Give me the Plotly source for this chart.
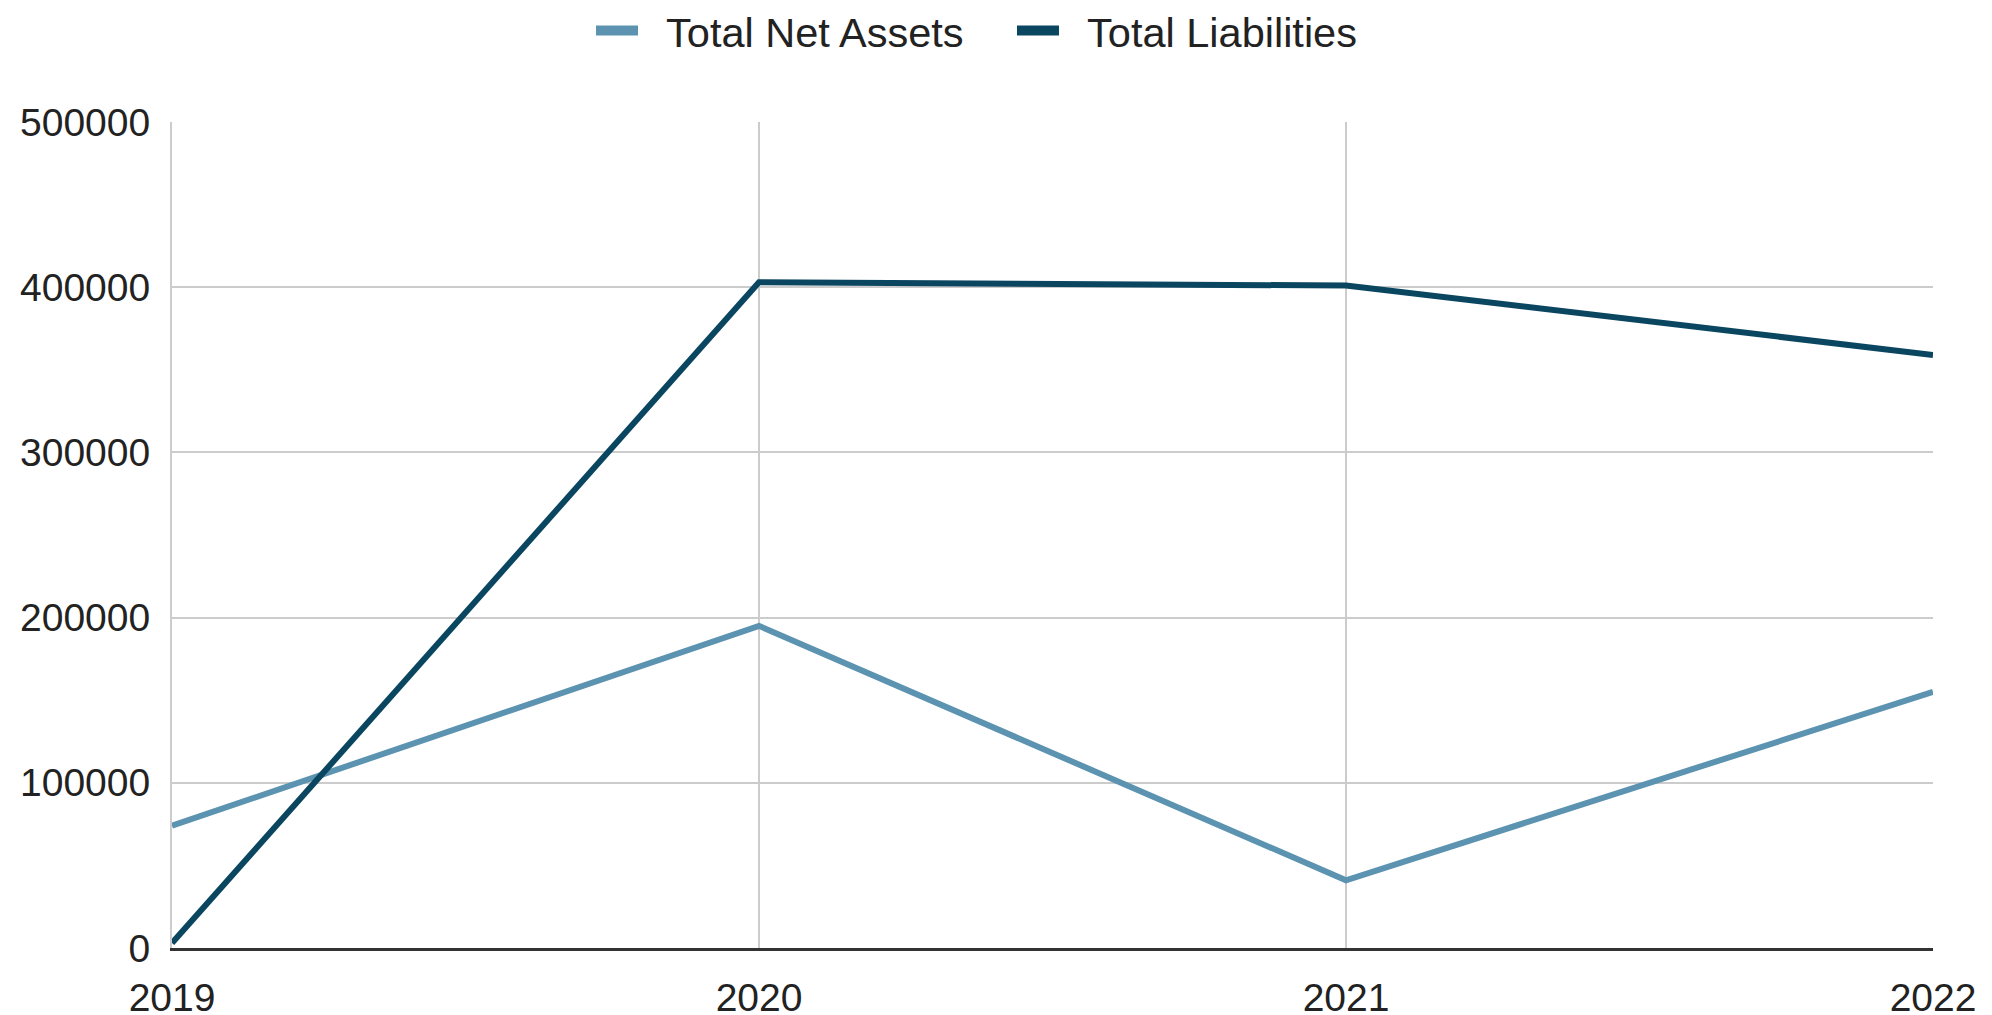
import plotly.graph_objects as go

years = [2019, 2020, 2021, 2022]
net_assets = [74000, 195000, 41000, 155000]
liabilities = [3000, 403000, 401000, 359000]
series_names = ["Total Net Assets", "Total Liabilities"]

c_net = "#5b93b1"
c_liab = "#0b4660"

W, H = 1976, 1015  # page body adds an 8px offset

fig = go.Figure()
fig.add_trace(go.Scatter(x=years, y=net_assets, mode="lines", name=series_names[0],
                         line=dict(color=c_net, width=6), showlegend=False))
fig.add_trace(go.Scatter(x=years, y=liabilities, mode="lines", name=series_names[1],
                         line=dict(color=c_liab, width=6), showlegend=False))
# legend swatches (thick bars like the original)
for nm, col in zip(series_names, [c_net, c_liab]):
    fig.add_trace(go.Scatter(x=[None], y=[None], mode="lines", name="\u00a0\u00a0" + nm,
                             line=dict(color=col, width=12), showlegend=True))

tick_font = dict(family="Liberation Sans, Arial, sans-serif", size=39, color="#222222")
leg_font = dict(family="Liberation Sans, Arial, sans-serif", size=41.5, color="#222222")
fig.update_layout(
    width=W, height=H, autosize=False,
    margin=dict(l=163.5, r=51, t=113.5, b=74.5, autoexpand=False),
    paper_bgcolor="white", plot_bgcolor="white",
    font=tick_font,
    showlegend=True,
    legend=dict(orientation="h", xref="container", yref="container", x=583 / W,
                y=1 - 22.5 / H, xanchor="left", yanchor="middle", font=leg_font,
                itemwidth=42, entrywidth=364, entrywidthmode="pixels"),
    xaxis=dict(range=[2019, 2022], tickvals=years, ticktext=[str(y) for y in years],
               showgrid=True, gridcolor="#cccccc", gridwidth=2, zeroline=False,
               showline=True, linecolor="#333333", linewidth=3, ticks="",
               ticklabelstandoff=13, tickfont=tick_font, automargin=False),
    yaxis=dict(range=[0, 500000], tickvals=[0, 100000, 200000, 300000, 400000, 500000],
               ticktext=["0", "100000", "200000", "300000", "400000", "500000"],
               showgrid=True, gridcolor="#cccccc", gridwidth=2, zeroline=False,
               showline=True, linecolor="#cccccc", linewidth=2, ticks="",
               ticklabelstandoff=12, tickfont=tick_font, automargin=False),
)
fig.write_html("out.html")
